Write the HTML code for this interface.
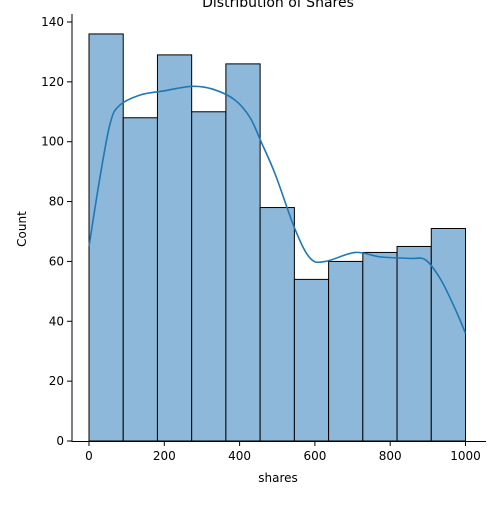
<!DOCTYPE html>
<html><head><meta charset="utf-8"><style>
body{margin:0;background:#fff;}
svg{font-family:"DejaVu Sans","Liberation Sans",sans-serif;}
</style></head><body>
<svg id="chart" width="500" height="500">
<text x="278" y="7" text-anchor="middle" font-size="14">Distribution of Shares</text>
<g id="bars"></g><g id="axes"></g>
<text x="278" y="482" text-anchor="middle" font-size="12">shares</text>
<text x="26" y="229" text-anchor="middle" font-size="12" transform="rotate(-90 26 229)">Count</text>
</svg>
<script>
const binEdges=[0,90.9,181.8,272.7,363.6,454.5,545.5,636.4,727.3,818.2,909.1,1000];
const counts=[136,108,129,110,126,78,54,60,63,65,71];
const xTicks=[0,200,400,600,800,1000];
const yTicks=[0,20,40,60,80,100,120,140];
const kdeX=[0,29,56,80,136,200,274,330,388,428,457,495,548,588,628,707,774,854,894,934,973,1000];
const kdeY=[65,88,106,112,115.6,117,118.5,117.5,113.9,108,100,89,70.5,61,60,63,61.5,61,60.5,54,44,36];
const NS='http://www.w3.org/2000/svg';
const sx=v=>89+v*0.3765, sy=v=>441-v*2.993;
const bars=document.getElementById('bars'),axes=document.getElementById('axes');
function mk(t,a,p){const e=document.createElementNS(NS,t);for(const k in a)e.setAttribute(k,a[k]);p.appendChild(e);return e;}
counts.forEach((c,i)=>{const x0=sx(binEdges[i]),x1=sx(binEdges[i+1]);
const r=mk('rect',{x:x0,y:sy(c),width:x1-x0,height:sy(0)-sy(c),fill:'#8db8da',stroke:'#000','stroke-width':1},bars);

});
const P=kdeX.map((x,i)=>[sx(x),sy(kdeY[i])]);
let d='M'+P[0][0]+','+P[0][1];
for(let i=0;i<P.length-1;i++){const p0=P[Math.max(0,i-1)],p1=P[i],p2=P[i+1],p3=P[Math.min(P.length-1,i+2)];
d+=' C'+(p1[0]+(p2[0]-p0[0])/6)+','+(p1[1]+(p2[1]-p0[1])/6)+' '+(p2[0]-(p3[0]-p1[0])/6)+','+(p2[1]-(p3[1]-p1[1])/6)+' '+p2[0]+','+p2[1];}
const pl=mk('path',{d:d,fill:'none',stroke:'#1f77b4','stroke-width':1.6},bars);


const ys=mk('line',{x1:72,x2:72,y1:14,y2:441.5,stroke:'#000','stroke-width':1},axes);


const xs=mk('line',{x1:71.5,x2:486,y1:441.5,y2:441.5,stroke:'#000','stroke-width':1},axes);


xTicks.forEach(t=>{const x=sx(t);mk('line',{x1:x,x2:x,y1:441.5,y2:446,stroke:'#000'},axes);
const tx=mk('text',{x:x,y:460,'text-anchor':'middle','font-size':12},axes);tx.textContent=t;

});
yTicks.forEach(t=>{const y=sy(t);mk('line',{x1:67,x2:72,y1:y,y2:y,stroke:'#000'},axes);
const tx=mk('text',{x:64,y:y+4,'text-anchor':'end','font-size':12},axes);tx.textContent=t;

});
</script>
</body></html>
